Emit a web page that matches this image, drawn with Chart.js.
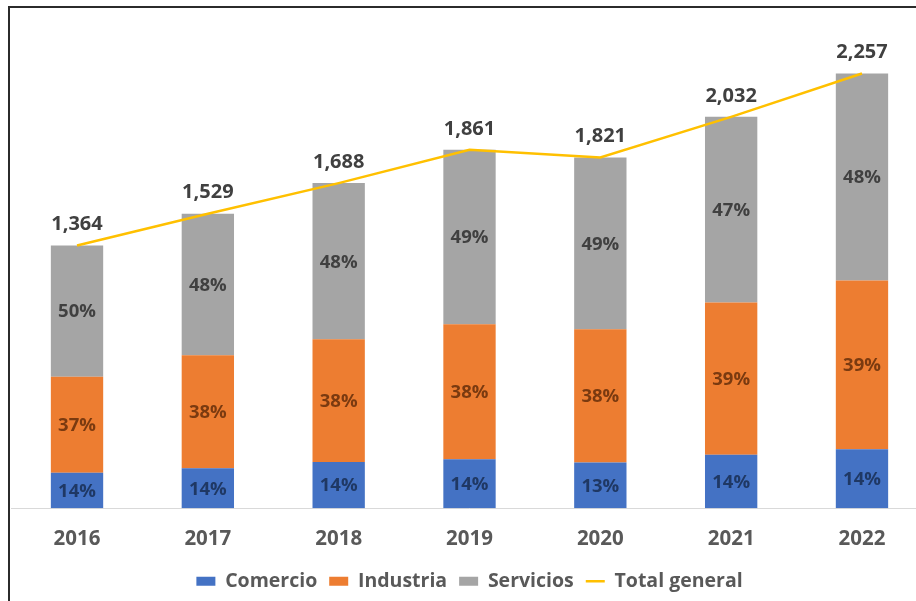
<!DOCTYPE html>
<html>
<head>
<meta charset="utf-8">
<script src="https://cdn.jsdelivr.net/npm/chart.js@4.4.1/dist/chart.umd.min.js"></script>
<style>
  html, body { margin: 0; padding: 0; background: #ffffff; overflow: hidden; width: 916px; height: 601px; }
  #frame { position: absolute; left: 8px; top: 6px; border-left: 2px solid #2b2b2b; border-top: 2px solid #2b2b2b; width: 920px; height: 600px; }
  #frame canvas { display: block; }
</style>
</head>
<body>
<div id="frame"><canvas id="chart" width="920" height="593"></canvas></div>
<script>
// Años
const years = ['2016', '2017', '2018', '2019', '2020', '2021', '2022'];

// Valores por sector
const comercio  = [185, 208, 240, 255, 238, 278, 306];
const industria = [498, 586, 637, 701, 691, 790, 877];
const servicios = [681, 735, 811, 905, 892, 964, 1074];

// Total general por año
const totalGeneral = [1364, 1529, 1688, 1861, 1821, 2032, 2257];

const FONT = '"Open Sans", Lato, sans-serif';

// Etiquetas: porcentaje dentro de cada segmento y total encima de la línea
const labelPlugin = {
  id: 'segmentLabels',
  afterDatasetsDraw(chart) {
    const ctx = chart.ctx;
    ctx.save();
    ctx.textAlign = 'center';
    ctx.textBaseline = 'middle';
    chart.data.datasets.forEach((ds, di) => {
      const meta = chart.getDatasetMeta(di);
      if (meta.hidden) return;
      meta.data.forEach((el, i) => {
        if (ds.type === 'line') {
          ctx.font = 'bold 20px ' + FONT;
          ctx.fillStyle = '#404040';
          ctx.fillText(ds.data[i].toLocaleString('en-US'), el.x, el.y - 21);
        } else {
          const pct = Math.round(ds.data[i] / totalGeneral[i] * 100) + '%';
          const yMid = (el.y + el.base) / 2;
          ctx.font = 'bold 18.5px ' + FONT;
          ctx.fillStyle = ds.labelColor;
          ctx.fillText(pct, el.x, yMid + 1);
        }
      });
    });
    ctx.restore();
  }
};

new Chart(document.getElementById('chart'), {
  type: 'bar',
  data: {
    labels: years,
    datasets: [
      { label: 'Comercio', data: comercio, backgroundColor: '#4472C4', labelColor: '#1F3864', stack: 's', order: 1, pointStyle: 'rect' },
      { label: 'Industria', data: industria, backgroundColor: '#ED7D31', labelColor: '#7A3A10', stack: 's', order: 1, pointStyle: 'rect' },
      { label: 'Servicios', data: servicios, backgroundColor: '#A5A5A5', labelColor: '#404040', stack: 's', order: 1, pointStyle: 'rect' },
      { type: 'line', label: 'Total general', data: totalGeneral, borderColor: '#FFC000', backgroundColor: '#FFC000',
        borderWidth: 2.5, pointRadius: 0, tension: 0, stack: 'total', order: 0, pointStyle: 'line' }
    ]
  },
  options: {
    responsive: false,
    animation: false,
    events: [],
    layout: { padding: { top: 18.7, left: 1.6, right: 2.6, bottom: 0 } },
    datasets: { bar: { barPercentage: 0.4, categoryPercentage: 1, borderWidth: 0 } },
    scales: {
      x: {
        stacked: true,
        grid: { display: false },
        border: { display: true, color: '#D9D9D9', width: 1 },
        ticks: { color: '#595959', font: { family: FONT, size: 20.5, weight: 'bold' }, padding: 10.5 },
        afterFit(scale) { scale.height -= 2.4; }
      },
      y: {
        stacked: true,
        display: false,
        min: 0,
        max: 2500
      }
    },
    plugins: {
      tooltip: { enabled: false },
      legend: {
        position: 'bottom',
        labels: {
          usePointStyle: true,
          pointStyleWidth: 19,
          boxHeight: 9,
          color: '#595959',
          font: { family: FONT, size: 19.5, weight: 'bold' },
          padding: 12,
          sort: (a, b) => a.datasetIndex - b.datasetIndex
        }
      }
    }
  },
  plugins: [labelPlugin]
});
</script>
</body>
</html>
